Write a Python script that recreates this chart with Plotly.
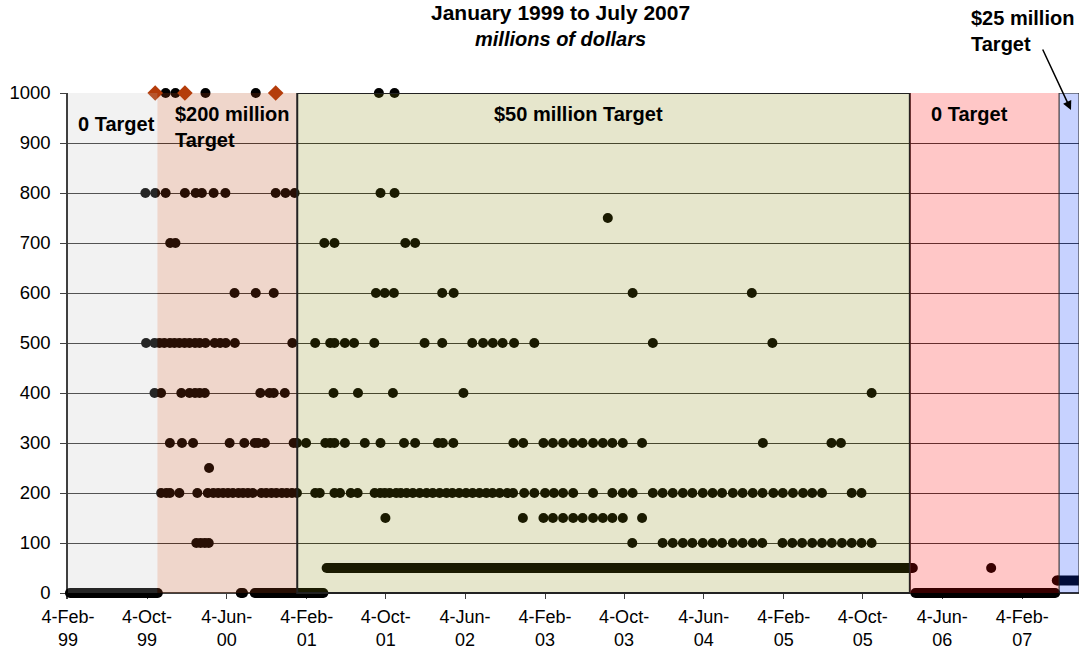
import plotly.graph_objects as go

# ---------------- data ----------------
axis_min = "1999-02-04"
axis_max = "2007-07-28"

tick_dates = ["1999-02-04", "1999-10-04", "2000-06-04", "2001-02-04", "2001-10-04",
              "2002-06-04", "2003-02-04", "2003-10-04", "2004-06-04", "2005-02-04",
              "2005-10-04", "2006-06-04", "2007-02-04"]
tick_labels = ["4-Feb-<br>99", "4-Oct-<br>99", "4-Jun-<br>00", "4-Feb-<br>01", "4-Oct-<br>01",
               "4-Jun-<br>02", "4-Feb-<br>03", "4-Oct-<br>03", "4-Jun-<br>04", "4-Feb-<br>05",
               "4-Oct-<br>05", "4-Jun-<br>06", "4-Feb-<br>07"]

regime_starts = ["1999-02-04", "1999-11-05", "2001-01-06", "2006-02-25", "2007-05-28"]
regime_ends = ["1999-11-05", "2001-01-06", "2006-02-25", "2007-05-28", "2007-07-28"]
regime_labels = ["0 Target", "$200 million<br>Target", "$50 million Target", "0 Target",
                 "$25 million<br>Target"]

title_line = "January 1999 to July 2007"
subtitle_line = "millions of dollars"

# values above 1000 (shown capped at 1000)
dates_over_1000 = ["1999-10-29", "2000-01-28", "2000-11-01"]

dates_1000 = ["1999-11-30", "1999-12-30", "2000-03-31", "2000-09-01", "2001-09-13", "2001-10-31"]

dates_800 = ["1999-09-29", "1999-10-29", "1999-11-30", "2000-01-28", "2000-03-01", "2000-03-20",
             "2000-04-25", "2000-05-31", "2000-11-01", "2000-12-01", "2000-12-29", "2001-09-18",
             "2001-10-31"]

dates_750 = ["2003-08-15"]

dates_700 = ["1999-12-14", "1999-12-30", "2001-03-30", "2001-04-30", "2001-12-03", "2002-01-02"]

dates_600 = ["2000-06-28", "2000-09-01", "2000-10-26", "2001-09-04", "2001-10-01", "2001-10-29",
             "2002-03-26", "2002-04-30", "2003-10-30", "2004-10-29"]

dates_500 = ["1999-10-01", "1999-10-27", "1999-11-11", "1999-11-26", "1999-12-13", "1999-12-27",
             "2000-01-11", "2000-01-27", "2000-02-11", "2000-02-28", "2000-03-13", "2000-03-31",
             "2000-04-28", "2000-05-15", "2000-06-01", "2000-06-29", "2000-12-22", "2001-03-02",
             "2001-04-17", "2001-04-30", "2001-06-01", "2001-06-29", "2001-08-30", "2002-01-31",
             "2002-03-26", "2002-06-26", "2002-07-29", "2002-08-28", "2002-09-27", "2002-11-01",
             "2003-01-02", "2003-12-31", "2004-12-31"]

dates_400 = ["1999-10-27", "1999-11-16", "2000-01-17", "2000-02-11", "2000-02-28", "2000-03-13",
             "2000-03-29", "2000-09-15", "2000-10-13", "2000-10-26", "2000-11-29", "2001-04-27",
             "2001-07-11", "2001-10-26", "2002-05-30", "2005-10-31"]

dates_300 = ["1999-12-13", "2000-01-19", "2000-02-22", "2000-06-13", "2000-07-28", "2000-08-29",
             "2000-09-08", "2000-09-29", "2000-12-26", "2001-01-05", "2001-02-02", "2001-04-02",
             "2001-04-17", "2001-04-30", "2001-06-01", "2001-08-01", "2001-09-18", "2001-11-29",
             "2002-01-02", "2002-03-13", "2002-03-28", "2002-04-29", "2002-10-30", "2002-11-29",
             "2003-01-30", "2003-02-28", "2003-03-31", "2003-05-01", "2003-05-30", "2003-07-01",
             "2003-07-31", "2003-08-29", "2003-09-30", "2003-11-28", "2004-12-02", "2005-06-30",
             "2005-07-29"]

dates_250 = ["2000-04-11"]

dates_200 = ["1999-11-16", "1999-12-02", "1999-12-13", "2000-01-11", "2000-03-06", "2000-04-07",
             "2000-04-24", "2000-05-09", "2000-05-24", "2000-06-08", "2000-06-23", "2000-07-10",
             "2000-07-24", "2000-08-08", "2000-08-23", "2000-09-18", "2000-10-03", "2000-10-19",
             "2000-11-03", "2000-11-20", "2000-12-05", "2000-12-21", "2001-01-05",
             "2001-03-02", "2001-03-16", "2001-04-30", "2001-05-17", "2001-06-19", "2001-07-10",
             "2001-08-31", "2001-09-17", "2001-10-01", "2001-10-16", "2001-11-05", "2001-11-19",
             "2001-12-07", "2001-12-26", "2002-01-16", "2002-02-06", "2002-02-25", "2002-03-18",
             "2002-04-08", "2002-04-26", "2002-05-17", "2002-06-07", "2002-06-27", "2002-07-18",
             "2002-08-08", "2002-08-27", "2002-09-18", "2002-10-11", "2002-10-29", "2002-12-02",
             "2003-01-02", "2003-02-04", "2003-03-03", "2003-03-31", "2003-05-01", "2003-07-01",
             "2003-08-29", "2003-09-30", "2003-10-30", "2003-12-31", "2004-01-30", "2004-03-01",
             "2004-04-01", "2004-04-30", "2004-06-01", "2004-07-01", "2004-07-30", "2004-09-01",
             "2004-10-01", "2004-11-01", "2004-12-01", "2005-01-03", "2005-02-01", "2005-03-04",
             "2005-04-04", "2005-05-02", "2005-06-01", "2005-08-31", "2005-09-30"]

dates_150 = ["2001-10-03", "2002-11-28", "2003-01-30", "2003-02-28", "2003-03-31", "2003-05-01",
             "2003-05-30", "2003-07-01", "2003-07-31", "2003-08-29", "2003-09-30", "2003-11-28"]

dates_100 = ["2000-03-03", "2000-03-16", "2000-03-29", "2000-04-10", "2003-10-29", "2004-01-30",
             "2004-03-01", "2004-04-01", "2004-04-30", "2004-06-01", "2004-07-01", "2004-07-30",
             "2004-09-01", "2004-10-01", "2004-11-01", "2004-11-30", "2005-01-31", "2005-03-02",
             "2005-04-01", "2005-05-02", "2005-06-01", "2005-07-01", "2005-08-01", "2005-08-31",
             "2005-09-30", "2005-10-31"]

dates_50 = ["2006-11-01"]

# continuous daily runs of a constant amount
run_starts = ["1999-02-10", "2000-07-17", "2000-08-29", "2001-04-06", "2006-03-14", "2007-05-21"]
run_ends = ["1999-11-06", "2000-07-24", "2001-03-27", "2006-03-06", "2007-05-16", "2007-07-31"]
run_values = [0, 0, 0, 50, 0, 25]

# ---------------- figure ----------------
FONT = "Arial, 'Liberation Sans', sans-serif"
Y_BOTTOM = -12   # small margin below zero so the zero-level dots are not clipped

levels = [(1000, dates_1000), (800, dates_800), (750, dates_750), (700, dates_700),
          (600, dates_600), (500, dates_500), (400, dates_400), (300, dates_300),
          (250, dates_250), (200, dates_200), (150, dates_150), (100, dates_100),
          (50, dates_50)]
dot_x, dot_y = [], []
for val, ds in levels:
    dot_x += ds
    dot_y += [val] * len(ds)

fig = go.Figure()

for s, e, v in zip(run_starts, run_ends, run_values):
    fig.add_trace(go.Scatter(
        x=[s, e], y=[v, v], mode="lines+markers",
        line=dict(color="black", width=10),
        marker=dict(size=10, color="black"),
        cliponaxis=(e > axis_max), showlegend=False, hoverinfo="skip"))

fig.add_trace(go.Scatter(
    x=dot_x, y=dot_y, mode="markers",
    marker=dict(size=10, color="black"),
    cliponaxis=False, showlegend=False))

fig.add_trace(go.Scatter(
    x=dates_over_1000, y=[1000] * len(dates_over_1000), mode="markers",
    marker=dict(size=12, color="#b43c0a", symbol="diamond"),
    cliponaxis=False, showlegend=False))

# regime overlays (semi-transparent, drawn above the points like the original)
fills = ["rgba(190,190,190,0.2)", "rgba(180,70,20,0.22)", "rgba(128,128,0,0.2)",
         "rgba(255,0,0,0.22)", "rgba(0,51,255,0.22)"]
borders = [0, 0, 2, 0, 1]
for s, e, fc, bw in zip(regime_starts, regime_ends, fills, borders):
    fig.add_shape(type="rect", xref="x", yref="y", x0=s, x1=e, y0=0, y1=1000,
                  fillcolor=fc, layer="above",
                  line=dict(color="#222222", width=bw) if bw else dict(width=0))

ann = []
def txt(text, x, y, xanchor="left", size=20):
    ann.append(dict(text=text, x=x, y=y, xref="paper", yref="paper", xanchor=xanchor,
                    yanchor="middle", showarrow=False, align="left",
                    font=dict(family=FONT, size=size, color="black")))

# plot area: x 68..1079 px, y 93..599 px (value 0 at 593)
def px(x):
    return (x - 68) / 1011.0
def py(y):
    return (599 - y) / 506.0

ann.append(dict(
    text="<b><span style='font-size:21px'>" + title_line + "</span></b><br><b><i>"
         + subtitle_line + "</i></b>",
    x=px(560), y=py(25), xref="paper", yref="paper", xanchor="center", yanchor="middle",
    showarrow=False, align="center", font=dict(family=FONT, size=20, color="black")))
txt("<b>" + regime_labels[0] + "</b>", px(76), py(124))
txt("<b>" + regime_labels[1] + "</b>", px(173), py(127))
txt("<b>" + regime_labels[2] + "</b>", px(578), py(114), xanchor="center")
txt("<b>" + regime_labels[3] + "</b>", px(929), py(114))
txt("<b>" + regime_labels[4] + "</b>", px(969), py(31))
ann.append(dict(text="", x=px(1071), y=py(110), xref="paper", yref="paper",
                showarrow=True, ax=-29, ay=-62, arrowhead=2, arrowsize=1.2,
                arrowwidth=1.5, arrowcolor="black"))

fig.update_layout(
    width=1081, height=653, autosize=False,
    margin=dict(l=68, r=2, t=93, b=54, pad=0),
    paper_bgcolor="white", plot_bgcolor="white",
    font=dict(family=FONT, size=18, color="black"),
    annotations=ann, showlegend=False,
    xaxis=dict(type="date", range=[axis_min, axis_max], tickvals=tick_dates,
               ticktext=tick_labels, ticks="inside", ticklen=6, tickcolor="#404040",
               showline=False, showgrid=False, zeroline=False, layer="below traces",
               tickfont=dict(size=18), ticklabelstandoff=5, automargin=False),
    yaxis=dict(range=[Y_BOTTOM, 1000], tickvals=[0, 100, 200, 300, 400, 500, 600, 700, 800, 900, 1000],
               ticks="outside", ticklen=6, tickcolor="#404040", showline=True,
               linecolor="#404040", linewidth=1.5, showgrid=True, gridcolor="#3a3a3a",
               gridwidth=1, zeroline=True, zerolinecolor="#404040", zerolinewidth=1.5,
               layer="below traces", tickfont=dict(size=18.5), ticklabelstandoff=6,
               automargin=False),
)

fig.write_html("out.html", config={"displayModeBar": False},
               post_script="document.body.style.margin='0';")
